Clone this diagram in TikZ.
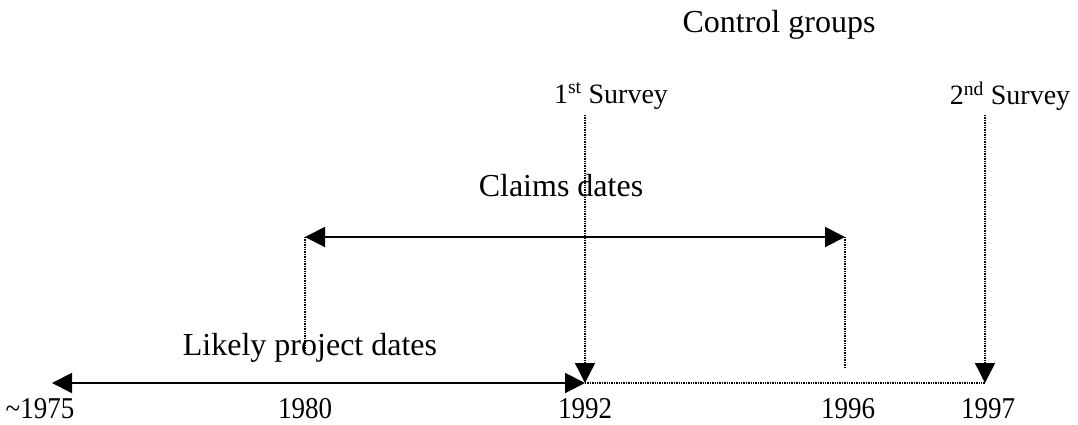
\documentclass[tikz,border=0pt]{standalone}
\usepackage{fontspec}
\setmainfont{Liberation Serif}
\usetikzlibrary{arrows.meta}
\begin{document}
\begin{tikzpicture}[x=1pt,y=-1pt,
  tip/.tip={Triangle[length=20pt,width=20pt]},
  solidarrow/.style={line width=2pt,{tip}-{tip}},
  downarrow/.style={line width=1.4pt,densely dotted,-{tip}},
  guide/.style={line width=1.4pt,densely dotted},
  yearlbl/.style={inner sep=0pt,font=\fontsize{27}{30}\selectfont},
  biglbl/.style={inner sep=0pt,font=\fontsize{32}{36}\selectfont},
  surveylbl/.style={inner sep=0pt,font=\fontsize{28}{32}\selectfont}
]
\useasboundingbox (0,0) rectangle (1078,424);
% axis points
\coordinate (t75) at (52,383);
\coordinate (t80) at (305,383);
\coordinate (t92) at (585,383);
\coordinate (t96) at (845,383);
\coordinate (t97) at (985,383);
% claims span
\coordinate (c80) at (305,237);
\coordinate (c96) at (845,237);
\coordinate (g80) at (305,352);
\coordinate (g96) at (845,368);
% survey starts
\coordinate (s1) at (585,115);
\coordinate (s2) at (985,115);

% texts
\node[biglbl] (ctrl) at (779,25) {Control groups};
\node[surveylbl] (sv1) at (611,96) {1\textsuperscript{st} Survey};
\node[surveylbl] (sv2) at (1010,96) {2\textsuperscript{nd} Survey};
\node[biglbl] (claims) at (561,186) {Claims dates};
\node[biglbl] (proj) at (310,348) {Likely project dates};

\node[yearlbl] (y75) at (40,409) {\scalebox{1}[1.12]{\textasciitilde1975}};
\node[yearlbl] (y80) at (305,409) {\scalebox{1}[1.12]{1980}};
\node[yearlbl] (y92) at (585,409) {\scalebox{1}[1.12]{1992}};
\node[yearlbl] (y96) at (848,409) {\scalebox{1}[1.12]{1996}};
\node[yearlbl] (y97) at (988,409) {\scalebox{1}[1.12]{1997}};

% connectors
\draw[guide] (c80) -- (g80);
\draw[guide] (c96) -- (g96);
\draw[guide] (t92) -- (t97);
\draw[solidarrow] (t75) -- (t92);
\draw[solidarrow] (c80) -- (c96);
\draw[downarrow] (s1) -- (t92);
\draw[downarrow] (s2) -- (t97);
\end{tikzpicture}
\end{document}
